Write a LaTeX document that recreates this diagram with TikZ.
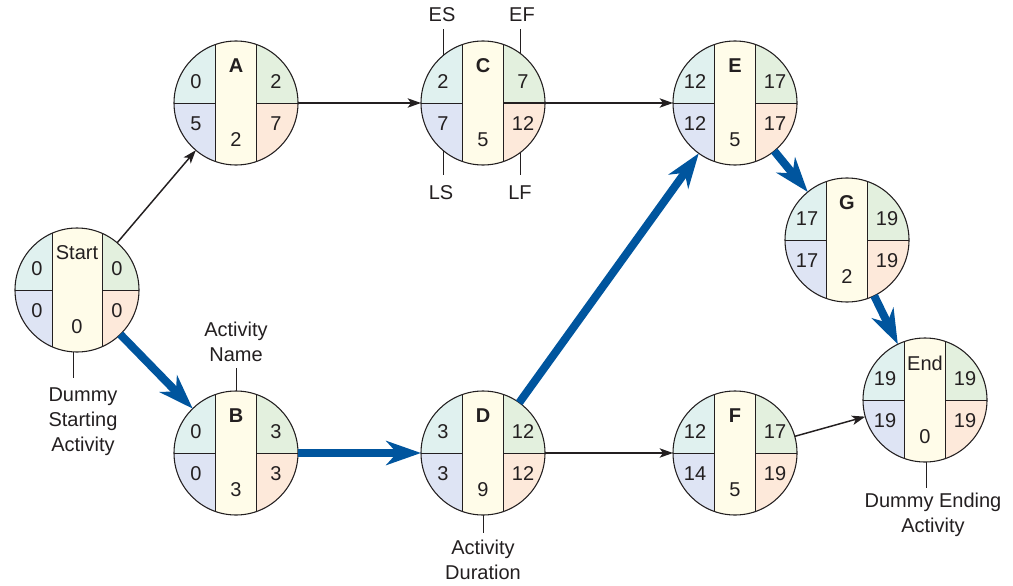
\documentclass[tikz,border=0pt]{standalone}
\usepackage{fontspec}
\setmainfont{Liberation Sans}
\usetikzlibrary{calc,arrows.meta}

\definecolor{cES}{HTML}{E0F1EF}
\definecolor{cLS}{HTML}{DEE4F4}
\definecolor{cEF}{HTML}{E3F0DE}
\definecolor{cLF}{HTML}{FDE9DA}
\definecolor{cDur}{HTML}{FFFCE9}
\definecolor{crit}{HTML}{00559E}
\definecolor{ink}{HTML}{231F20}

\tikzset{
  pcirc/.style={circle, minimum size=93pt, inner sep=0pt, outer sep=0pt},
  num/.style={font=\fontsize{15}{18}\selectfont, inner sep=0pt, text=ink},
  lab/.style={font=\fontsize{15}{18.75}\selectfont, inner sep=0pt, text=ink, align=center},
  divider/.style={draw=ink, line width=0.7pt},
  outline/.style={draw=ink, line width=0.8pt},
  leader/.style={draw=ink, line width=0.7pt},
  thinarr/.style={draw=ink, line width=1.1pt,
    -{Stealth[length=10pt, width=7pt, inset=2.5pt]}},
  critarr/.style={draw=crit, line width=6pt,
    -{Stealth[length=26pt, width=18pt, inset=8pt]}},
}

% one activity circle: name, centre, title, ES, EF, LS, LF, duration, half width of the middle strip
\newcommand{\pertnode}[9]{%
  \node[pcirc] (#1) at (#2) {};
  \begin{scope}
    \clip (#1.center) circle[radius=46.5pt];
    \fill[cES] ($(#1)+(-70,0)$) rectangle ($(#1)+(-#9,-70)$);
    \fill[cLS] ($(#1)+(-70,0)$) rectangle ($(#1)+(-#9,70)$);
    \fill[cEF] ($(#1)+(70,0)$) rectangle ($(#1)+(#9,-70)$);
    \fill[cLF] ($(#1)+(70,0)$) rectangle ($(#1)+(#9,70)$);
    \fill[cDur] ($(#1)+(-#9,-70)$) rectangle ($(#1)+(#9,70)$);
    \draw[divider] ($(#1)+(-#9,-70)$) -- ($(#1)+(-#9,70)$);
    \draw[divider] ($(#1)+(#9,-70)$) -- ($(#1)+(#9,70)$);
    \draw[divider] ($(#1)+(-70,0)$) -- ($(#1)+(-#9,0)$);
    \draw[divider] ($(#1)+(70,0)$) -- ($(#1)+(#9,0)$);
  \end{scope}
  \draw[outline] (#1.center) circle[radius=46.5pt];
  \node[num] (#1-title) at ($(#1)+(0,-37)$) {#3};
  \node[num] (#1-es) at ($(#1)+(-40,-21)$) {#4};
  \node[num] (#1-ef) at ($(#1)+(40,-21)$) {#5};
  \node[num] (#1-ls) at ($(#1)+(-40,21)$) {#6};
  \node[num] (#1-lf) at ($(#1)+(40,21)$) {#7};
  \node[num] (#1-dur) at ($(#1)+(0,37)$) {#8};
}

\begin{document}
\begin{tikzpicture}[x=0.75pt, y=-0.75pt]
  \useasboundingbox (0,0) rectangle (1013,585);

  % activities
  \pertnode{Start}{77,290}{Start}{0}{0}{0}{0}{0}{25}
  \pertnode{A}{236,103}{\textbf{A}}{0}{2}{5}{7}{2}{20.5}
  \pertnode{B}{236,453}{\textbf{B}}{0}{3}{0}{3}{3}{20.5}
  \pertnode{C}{483,103}{\textbf{C}}{2}{7}{7}{12}{5}{20.5}
  \pertnode{D}{483,453}{\textbf{D}}{3}{12}{3}{12}{9}{20.5}
  \pertnode{E}{735,103}{\textbf{E}}{12}{17}{12}{17}{5}{20.5}
  \pertnode{F}{735,453}{\textbf{F}}{12}{17}{14}{19}{5}{20.5}
  \pertnode{G}{847,240}{\textbf{G}}{17}{19}{17}{19}{2}{20.5}
  \pertnode{End}{925,400}{End}{19}{19}{19}{19}{0}{20.5}

  % non-critical links
  \draw[thinarr] (Start) -- (A);
  \draw[thinarr] (A.east) -- (C.west);
  \coordinate (Cout) at ($(C)+(21,0)$);
  \draw[thinarr] (Cout) -- (E.west);
  \draw[thinarr] (D.east) -- (F.west);
  \draw[thinarr] (F) -- (End);

  % critical path
  \draw[critarr] (Start) -- (B);
  \draw[critarr] (B.east) -- (D.west);
  \draw[critarr] (D) -- (E);
  \draw[critarr] (E) -- (G);
  \draw[critarr] (G) -- (End);

  % legend on activity C
  \node[lab, outer sep=5pt] (lES) at (442,15) {ES};
  \node[lab, outer sep=5pt] (lEF) at (522,15) {EF};
  \node[lab, outer sep=8pt] (lLS) at (441,193) {LS};
  \node[lab, outer sep=8pt] (lLF) at (520,193) {LF};
  \coordinate (pES) at ($(C)+(-40,-47.4)$);
  \coordinate (pEF) at ($(C)+(37,-49.7)$);
  \coordinate (pLS) at ($(C)+(-40,47.4)$);
  \coordinate (pLF) at ($(C)+(37,49.7)$);
  \draw[leader] (pES) -- (pES |- lES.south);
  \draw[leader] (pEF) -- (pEF |- lEF.south);
  \draw[leader] (pLS) -- (pLS |- lLS.north);
  \draw[leader] (pLF) -- (pLF |- lLF.north);

  % other callouts
  \node[lab, anchor=south, outer sep=5pt] (lName) at (236,368) {Activity\\Name};
  \draw[leader] (lName.south) -- (B.north);

  \node[lab, anchor=north, outer sep=7.5pt] (lStart) at (83,378) {Dummy\\Starting\\Activity};
  \coordinate (sLead) at ($(Start)+(-4,62)$);
  \draw[leader] (sLead) -- (sLead |- lStart.north);

  \node[lab, anchor=north, outer sep=5pt] (lDur) at (483,533) {Activity\\Duration};
  \draw[leader] (D.south) -- (lDur.north);

  \node[lab, anchor=north, outer sep=3.5pt] (lEnd) at (933,488) {Dummy Ending\\Activity};
  \coordinate (eLead) at ($(End)+(1,62)$);
  \draw[leader] (eLead) -- (eLead |- lEnd.north);
\end{tikzpicture}
\end{document}
